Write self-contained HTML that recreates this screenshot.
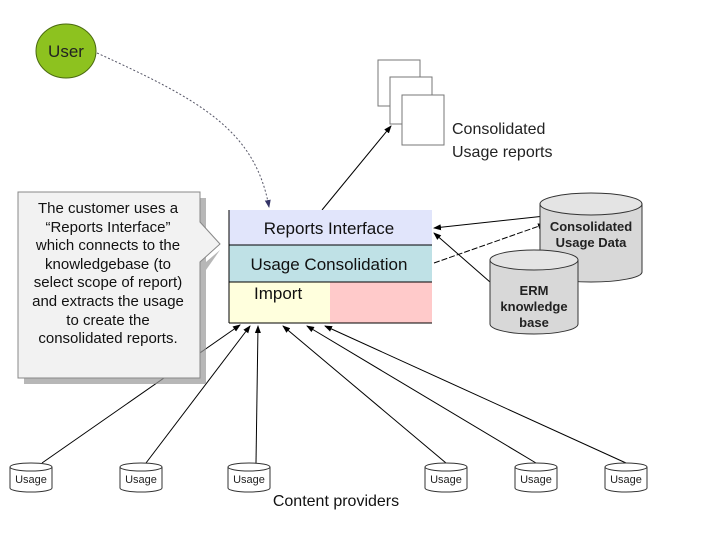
<!DOCTYPE html>
<html><head><meta charset="utf-8"><style>
html,body{margin:0;padding:0;background:#fff;}
svg{display:block;font-family:"Liberation Sans",Arial,sans-serif;}
</style></head><body>
<svg width="720" height="540" viewBox="0 0 720 540" xmlns="http://www.w3.org/2000/svg">
<defs>
<marker id="a" markerWidth="8" markerHeight="8" refX="7" refY="4" orient="auto" markerUnits="userSpaceOnUse">
<path d="M0,1 L8,4 L0,7 z" fill="#000"/></marker>
<marker id="b" markerWidth="8" markerHeight="8" refX="7" refY="4" orient="auto" markerUnits="userSpaceOnUse">
<path d="M0,1 L8,4 L0,7 z" fill="#336"/></marker>
</defs>
<rect width="720" height="540" fill="#fff"/>

<ellipse cx="66" cy="51" rx="30" ry="27" fill="#8dc21f" stroke="#4a6a10" stroke-width="1"/>
<text x="66" y="57" font-size="17" text-anchor="middle" fill="#222">User</text>
<path d="M97,53 C200,100 255,130 269,207" fill="none" stroke="#556" stroke-width="1" stroke-dasharray="2,2" marker-end="url(#b)"/>

<g stroke="#000" stroke-width="1" fill="none" marker-end="url(#a)">
<line x1="42" y1="463" x2="240" y2="325"/>
<line x1="146" y1="463" x2="250" y2="326"/>
<line x1="256" y1="463" x2="258" y2="326"/>
<line x1="446" y1="463" x2="283" y2="326"/>
<line x1="536" y1="463" x2="307" y2="326"/>
<line x1="626" y1="463" x2="325" y2="326"/>
<line x1="322" y1="210" x2="391" y2="126"/>
<line x1="545" y1="216" x2="434" y2="228"/>
<line x1="490" y1="282" x2="434" y2="233"/>
<line x1="434" y1="263" x2="545" y2="224" stroke-dasharray="6,2"/>
</g>

<rect x="229" y="210" width="203" height="35" fill="#e1e5fb"/>
<rect x="229" y="245" width="203" height="37" fill="#bfe1e6"/>
<rect x="229" y="282" width="101" height="41" fill="#ffffdd"/>
<rect x="330" y="282" width="102" height="41" fill="#ffcaca"/>
<g stroke="#000" stroke-width="1">
<line x1="229" y1="210" x2="229" y2="323"/>
<line x1="229" y1="245" x2="432" y2="245"/>
<line x1="229" y1="282" x2="432" y2="282"/>
<line x1="229" y1="323" x2="432" y2="323"/>
</g>
<text x="329" y="234" font-size="17" text-anchor="middle" fill="#111">Reports Interface</text>
<text x="329" y="270" font-size="17" text-anchor="middle" fill="#111">Usage Consolidation</text>
<text x="254" y="299" font-size="17" fill="#111">Import</text>

<path d="M24,198 H206 V262 L220,250 L206,270 V384 H24 Z" fill="#999" opacity="0.7"/>
<path d="M18,192 H200 V222 L220,244 L200,262 V378 H18 Z" fill="#f2f2f2" stroke="#888" stroke-width="1"/>
<g font-size="15" text-anchor="middle" fill="#111">
<text x="108" y="213">The customer uses a</text>
<text x="108" y="232">“Reports Interface”</text>
<text x="108" y="250">which connects to the</text>
<text x="108" y="269">knowledgebase (to</text>
<text x="108" y="287">select scope of report)</text>
<text x="108" y="306">and extracts the usage</text>
<text x="108" y="325">to create the</text>
<text x="108" y="343">consolidated reports.</text>
</g>

<g fill="#fff" stroke="#777" stroke-width="1">
<rect x="378" y="60" width="42" height="46"/>
<rect x="390" y="77" width="42" height="47"/>
<rect x="402" y="95" width="42" height="50"/>
</g>
<text x="452" y="134" font-size="16" fill="#222">Consolidated</text>
<text x="452" y="157" font-size="16" fill="#222">Usage reports</text>

<g stroke="#333" stroke-width="1">
<path d="M540,204 V272 A51,10 0 0 0 642,272 V204" fill="#d8d8d8"/>
<ellipse cx="591" cy="204" rx="51" ry="11" fill="#e4e4e4"/>
<path d="M490,260 V324 A44,10 0 0 0 578,324 V260" fill="#d8d8d8"/>
<ellipse cx="534" cy="260" rx="44" ry="10" fill="#e4e4e4"/>
</g>
<g font-size="13" font-weight="bold" text-anchor="middle" fill="#222">
<text x="591" y="231">Consolidated</text>
<text x="591" y="247">Usage Data</text>
<text x="534" y="295">ERM</text>
<text x="534" y="311">knowledge</text>
<text x="534" y="327">base</text>
</g>

<g stroke="#333" stroke-width="1" fill="#fff">
<g transform="translate(10,462)"><path d="M0,5 V26 A21,4 0 0 0 42,26 V5"/><ellipse cx="21" cy="5" rx="21" ry="4"/></g>
<g transform="translate(120,462)"><path d="M0,5 V26 A21,4 0 0 0 42,26 V5"/><ellipse cx="21" cy="5" rx="21" ry="4"/></g>
<g transform="translate(228,462)"><path d="M0,5 V26 A21,4 0 0 0 42,26 V5"/><ellipse cx="21" cy="5" rx="21" ry="4"/></g>
<g transform="translate(425,462)"><path d="M0,5 V26 A21,4 0 0 0 42,26 V5"/><ellipse cx="21" cy="5" rx="21" ry="4"/></g>
<g transform="translate(515,462)"><path d="M0,5 V26 A21,4 0 0 0 42,26 V5"/><ellipse cx="21" cy="5" rx="21" ry="4"/></g>
<g transform="translate(605,462)"><path d="M0,5 V26 A21,4 0 0 0 42,26 V5"/><ellipse cx="21" cy="5" rx="21" ry="4"/></g>
</g>
<g font-size="11" text-anchor="middle" fill="#222">
<text x="31" y="483">Usage</text>
<text x="141" y="483">Usage</text>
<text x="249" y="483">Usage</text>
<text x="446" y="483">Usage</text>
<text x="536" y="483">Usage</text>
<text x="626" y="483">Usage</text>
</g>
<text x="336" y="506" font-size="16" text-anchor="middle" fill="#111">Content providers</text>
</svg>
</body></html>
